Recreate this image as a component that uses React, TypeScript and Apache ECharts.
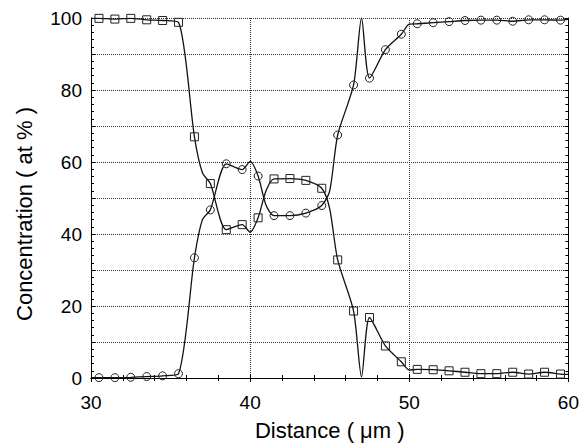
import React, { useEffect, useRef } from "react";
import * as echarts from "echarts";

// Distance along the profile (µm); the line passes through every point,
// markers are drawn only where `measured` is true.
const distance = [
  30.0, 30.5, 31.5, 32.5, 33.5, 34.5, 35.5, 36.5, 37.0, 37.5, 38.5, 39.5, 40.0,
  40.5, 41.0, 41.5, 42.5, 43.5, 44.5, 45.0, 45.5, 46.5, 47.0, 47.5, 48.5, 49.5,
  50.0, 50.5, 51.5, 52.5, 53.5, 54.5, 55.5, 56.5, 57.5, 58.5, 59.5, 60.0,
];
const measured = [
  false, true, true, true, true, true, true, true, false, true, true, true, false,
  true, false, true, true, true, true, false, true, true, false, true, true, true,
  false, true, true, true, true, true, true, true, true, true, true, false,
];
// Element plotted with square markers (falls from 100 to 0)
const squareConc = [
  99.9, 99.9, 99.7, 99.9, 99.5, 99.3, 98.8, 67.0, 57.0, 54.0, 41.2, 42.6, 40.5,
  44.5, 52.0, 55.3, 55.4, 54.9, 52.7, 47.0, 32.8, 18.6, 0.3, 16.8, 8.9, 4.5,
  2.2, 2.4, 2.3, 2.0, 1.6, 1.2, 1.2, 1.6, 1.1, 1.6, 1.1, 1.0,
];
// Element plotted with circle markers (rises from 0 to 100)
const circleConc = [
  0.1, 0.1, 0.1, 0.2, 0.4, 0.6, 1.2, 33.4, 44.0, 46.7, 59.5, 57.9, 60.2,
  56.1, 48.0, 45.1, 45.1, 45.8, 47.9, 52.0, 67.5, 81.4, 100.0, 83.3, 91.2, 95.5,
  98.3, 98.4, 98.7, 99.0, 99.3, 99.4, 99.4, 99.1, 99.5, 99.5, 99.4, 99.6,
];

const xTitle = "Distance ( μm )";
const yTitle = "Concentration ( at % )";

const FONT = "'Liberation Sans', Arial, Helvetica, sans-serif";

function toData(ys: number[]) {
  return distance.map((x, i) =>
    measured[i] ? { value: [x, ys[i]] } : { value: [x, ys[i]], symbol: "none" }
  );
}

export default function App() {
  const ref = useRef<HTMLDivElement>(null);
  useEffect(() => {
    if (!ref.current) return;
    const chart = echarts.init(ref.current, undefined, { renderer: "svg" });
    const tickStyle = { color: "#000", width: 1 };
    const option: any = {
      animation: false,
      backgroundColor: "#fff",
      grid: { left: 91, right: 12, top: 18, bottom: 63 },
      graphic: [
        {
          type: "text",
          x: 24,
          y: 214,
          rotation: Math.PI / 2,
          style: {
            text: yTitle,
            font: `22px ${FONT}`,
            fill: "#000",
            textAlign: "center",
            textVerticalAlign: "middle",
          },
        },
      ],
      xAxis: [
        {
          type: "value",
          min: 30,
          max: 60,
          interval: 10,
          name: xTitle,
          nameLocation: "middle",
          nameGap: 41,
          nameTextStyle: { fontFamily: FONT, fontSize: 22, color: "#000" },
          axisLine: { show: true, lineStyle: { color: "#000", width: 1 } },
          axisTick: { show: true, inside: true, length: 4, lineStyle: tickStyle },
          minorTick: { show: true, splitNumber: 5, length: 3, lineStyle: tickStyle },
          axisLabel: { fontFamily: FONT, fontSize: 19, color: "#000", margin: 15 },
          splitLine: { show: true, lineStyle: { type: "dotted", color: "#333", width: 1 } },
        },
        {
          type: "value",
          position: "top",
          min: 30,
          max: 60,
          interval: 10,
          axisLine: { show: true, lineStyle: { color: "#000", width: 1 } },
          axisTick: { show: true, inside: true, length: 4, lineStyle: tickStyle },
          minorTick: { show: true, splitNumber: 5, length: 3, lineStyle: tickStyle },
          axisLabel: { show: false },
          splitLine: { show: false },
        },
      ],
      yAxis: [
        {
          type: "value",
          min: 0,
          max: 100,
          interval: 10,
          axisLine: { show: true, lineStyle: { color: "#000", width: 1 } },
          axisTick: { show: true, inside: true, length: 4, lineStyle: tickStyle },
          minorTick: { show: true, splitNumber: 5, length: 3, lineStyle: tickStyle },
          axisLabel: {
            fontFamily: FONT,
            fontSize: 19,
            color: "#000",
            margin: 9,
            formatter: (v: number) => (v % 20 === 0 ? String(v) : ""),
          },
          splitLine: { show: true, lineStyle: { type: "dotted", color: "#333", width: 1 } },
        },
        {
          type: "value",
          position: "right",
          min: 0,
          max: 100,
          interval: 10,
          axisLine: { show: true, lineStyle: { color: "#000", width: 1 } },
          axisTick: { show: true, inside: true, length: 4, lineStyle: tickStyle },
          minorTick: { show: true, splitNumber: 5, length: 3, lineStyle: tickStyle },
          axisLabel: { show: false },
          splitLine: { show: false },
        },
      ],
      series: [
        {
          type: "line",
          name: "square",
          data: toData(squareConc),
          smooth: 0.25,
          symbol: "rect",
          symbolSize: 8,
          lineStyle: { color: "#111", width: 1.3 },
          itemStyle: { color: "rgba(0,0,0,0)", borderColor: "#222", borderWidth: 1 },
          z: 3,
        },
        {
          type: "line",
          name: "circle",
          data: toData(circleConc),
          smooth: 0.25,
          symbol: "circle",
          symbolSize: 8,
          lineStyle: { color: "#111", width: 1.3 },
          itemStyle: { color: "rgba(0,0,0,0)", borderColor: "#222", borderWidth: 1 },
          z: 3,
        },
      ],
    };
    chart.setOption(option);
    return () => chart.dispose();
  }, []);
  return (
    <div
      ref={ref}
      style={{ position: "fixed", left: 0, top: 0, width: 582, height: 446 }}
    />
  );
}
